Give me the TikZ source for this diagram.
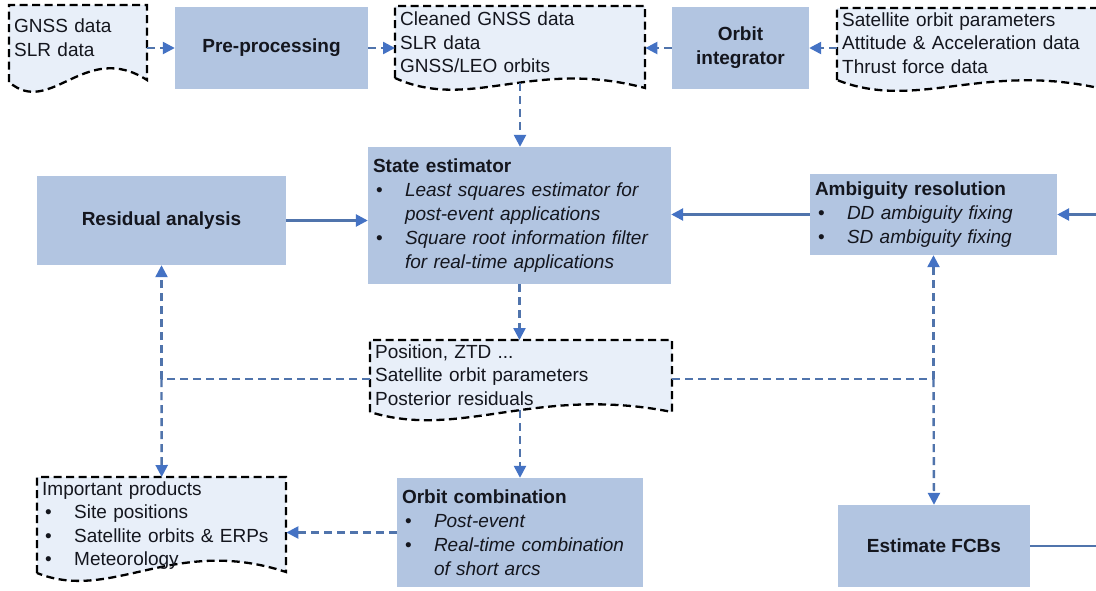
\documentclass[tikz,border=0pt]{standalone}
\usepackage{fontspec}
\setmainfont{Liberation Sans}
\usetikzlibrary{arrows.meta}
\definecolor{lineblue}{RGB}{80,116,172}
\definecolor{tipblue}{RGB}{68,114,196}
\definecolor{boxfill}{RGB}{178,197,225}
\definecolor{docfill}{RGB}{232,239,249}
\definecolor{txt}{RGB}{20,22,30}
\newcommand{\bitem}[1]{\hspace*{3pt}\makebox[29pt][l]{\textbullet}#1}
\newcommand{\bcont}[1]{\hspace*{32pt}#1}
% x1 x2 top yl yr c1 c2
\newcommand{\docshape}[7]{%
  \path[docframe] (#1,#4) -- (#1,#3) -- (#2,#3) -- (#2,#5)
    .. controls ({#1+0.55*(#2-#1)},#7) and ({#1+0.3*(#2-#1)},#6) .. (#1,#4) -- cycle;}
\tikzset{
  procbox/.style={fill=boxfill, draw=none, text=txt, inner sep=0pt,
    font=\fontsize{19}{24}\selectfont},
  titlebox/.style={procbox, font=\fontsize{19}{24}\selectfont\bfseries, align=center},
  listbox/.style={procbox, align=left, inner xsep=5pt},
  doctxt/.style={anchor=north west, inner xsep=5pt, text=txt,
    font=\fontsize{19}{23.5}\selectfont, align=left},
  docframe/.style={draw=black, dash pattern=on 8pt off 4.5pt, line width=2.3pt, fill=docfill},
  flowdash/.style={draw=lineblue, line width=2.4pt, dash pattern=on 8pt off 5pt},
  flowsolid/.style={draw=lineblue, line width=2.6pt},
  headtip/.style={-{Triangle[length=12pt,width=12pt,color=tipblue,fill=tipblue]}},
}
\begin{document}
\begin{tikzpicture}[x=1pt,y=-1pt]
\useasboundingbox (0,0) rectangle (1096,590);
\fill[white] (0,0) rectangle (1096,590);
\clip (0,0) rectangle (1096,590);

% document shapes
\docshape{9}{147}{5}{82}{80}{118}{40}
\docshape{395}{645}{6}{78}{88}{112}{58}
\docshape{837}{1107}{8}{80}{90}{112}{60}
\docshape{370}{672}{340}{412}{412}{440}{385}
\docshape{37}{286}{477}{573}{572}{603}{535}

\node[doctxt, text width=128pt, inner ysep=14pt] (d1) at (9,5) {GNSS data\\SLR data};
\node[doctxt, text width=240pt, inner ysep=6pt] (d2) at (395,6)
  {Cleaned GNSS data\\SLR data\\GNSS/LEO orbits};
\node[doctxt, text width=260pt, inner ysep=4.5pt] (d3) at (837,8)
  {Satellite orbit parameters\\Attitude \& Acceleration data\\Thrust force data};
\node[doctxt, text width=292pt, inner ysep=4.5pt] (d4) at (370,340)
  {Position, ZTD ...\\Satellite orbit parameters\\Posterior residuals};
\node[doctxt, text width=239pt, inner ysep=4.5pt] (ip) at (37,477)
  {Important products\\\bitem{Site positions}\\\bitem{Satellite orbits \& ERPs}\\\bitem{Meteorology}};

% process boxes
\node[titlebox, minimum width=193pt, minimum height=82pt] (pre) at (271.5,48) {Pre-processing};
\node[titlebox, minimum width=137pt, minimum height=82pt] (oi) at (740.5,48) {Orbit\\integrator};
\node[titlebox, minimum width=249pt, minimum height=89pt] (ra) at (161.5,220.5) {Residual analysis};
\node[titlebox, minimum width=192pt, minimum height=82pt] (fcb) at (934,546) {Estimate FCBs};
\node[listbox, text width=293pt, minimum width=303pt, minimum height=137pt] (se) at (519.5,215.5)
  {\textbf{State estimator}\\
   \bitem{\textit{Least squares estimator for}}\\
   \bcont{\textit{post-event applications}}\\
   \bitem{\textit{Square root information filter}}\\
   \bcont{\textit{for real-time applications}}};
\node[listbox, text width=237pt, minimum width=247pt, minimum height=81pt] (ar) at (933.5,214.5)
  {\textbf{Ambiguity resolution}\\
   \bitem{\textit{DD ambiguity fixing}}\\
   \bitem{\textit{SD ambiguity fixing}}};
\node[listbox, text width=236pt, minimum width=246pt, minimum height=109pt] (oc) at (520,532.5)
  {\textbf{Orbit combination}\\
   \bitem{\textit{Post-event}}\\
   \bitem{\textit{Real-time combination}}\\
   \bcont{\textit{of short arcs}}};

% junction points
\coordinate (d2b) at (520,83);
\coordinate (d4b) at (520,410);
\coordinate (jl) at (161.5,379);
\coordinate (jr) at (933.5,379);

% connectors
\draw[flowdash, headtip] (d1.east |- pre.west) -- (pre.west);
\draw[flowdash, headtip] (pre.east) -- (pre.east -| d2.west);
\draw[flowdash, headtip] (oi.west) -- (oi.west -| d2.east);
\draw[flowdash, headtip] (oi.east -| d3.west) -- (oi.east);
\draw[flowdash, headtip] (d2b) -- (d2b |- se.north);
\draw[flowdash, headtip] (se.south) -- (se.south |- d4.north);
\draw[flowdash, headtip] (d4b) -- (d4b |- oc.north);
\draw[flowsolid, headtip] (ra.east) -- (ra.east -| se.west);
\draw[flowsolid, headtip] (ar.west) -- (ar.west -| se.east);
\draw[flowsolid, headtip] (fcb.east) -- ++(90,0) |- (ar.east);
\draw[flowdash] (d4.west |- jl) -- (jl);
\draw[flowdash] (d4.east |- jr) -- (jr);
\draw[flowdash, headtip] (jl) -- (ra.south);
\draw[flowdash, headtip] (jl) -- (ip.north);
\draw[flowdash, headtip] (jr) -- (ar.south);
\draw[flowdash, headtip] (jr) -- (fcb.north);
\draw[flowdash, headtip] (oc.west) -- (oc.west -| ip.east);
\end{tikzpicture}
\end{document}
